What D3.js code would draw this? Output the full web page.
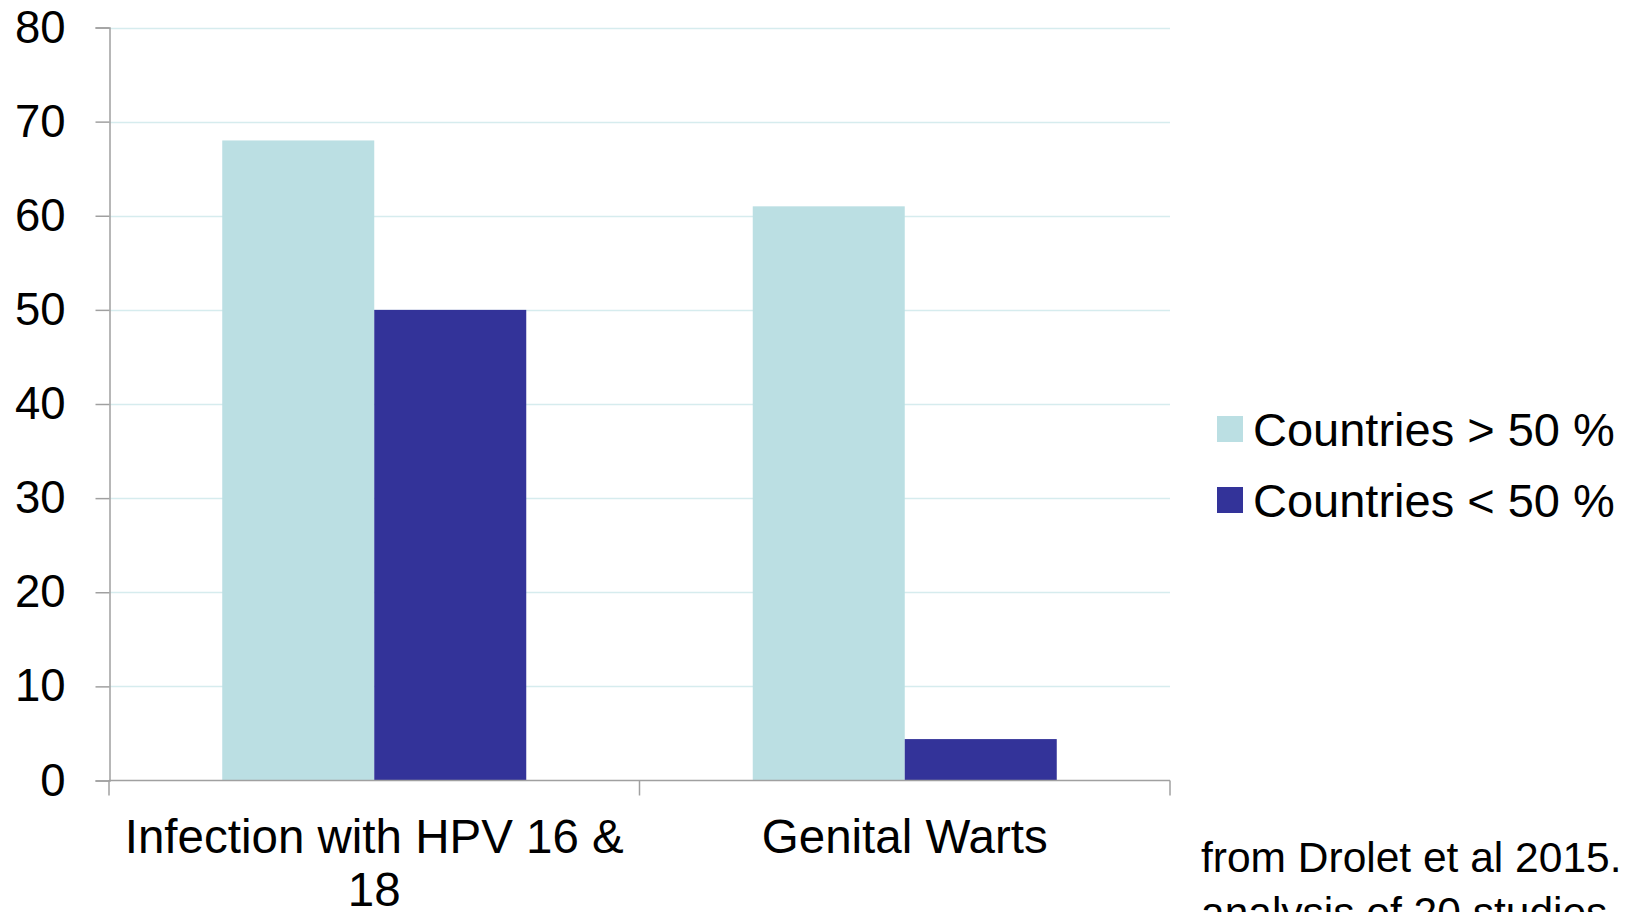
<!DOCTYPE html>
<html>
<head>
<meta charset="utf-8">
<script src="https://cdn.jsdelivr.net/npm/d3@7"></script>
<style>
  body { margin: 0; background: #fff; }
  svg { display: block; font-family: "Liberation Sans", Arial, sans-serif; }
</style>
</head>
<body>
<div id="chart"></div>
<script>
// data
var categories = ["Infection with HPV 16 & 18", "Genital Warts"]
var seriesNames = ["Countries > 50 %", "Countries < 50 %"]
var above50 = [68, 61]
var below50 = [50, 4.4]
var yTicks = [0, 10, 20, 30, 40, 50, 60, 70, 80]
var captionLines = ["from Drolet et al 2015.", "analysis of 20 studies"]

var width = 1637,
    height = 912
var colors = ["#bbdfe3", "#333399"]

var svg = d3.select("#chart")
  .append("svg")
    .attr("width", width)
    .attr("height", height)

var x0 = d3.scaleBand()
  .domain(categories)
  .range([109, 1170])
  .paddingInner(0)
  .paddingOuter(0)

// two bars side by side in the middle of each band (150% gap like excel)
var x1 = d3.scaleBand()
  .domain(seriesNames)
  .range([0, x0.bandwidth()])
  .paddingInner(0)
  .paddingOuter(0.745)

var y = d3.scaleLinear()
  .domain([0, 80])
  .range([780.5, 27.5])

// gridlines
svg.selectAll("grid")
  .data(yTicks.filter(function(d) { return d > 0 }))
  .enter()
  .append("line")
    .attr("x1", 109)
    .attr("x2", 1170)
    .attr("y1", function(d) { return Math.round(y(d)) + 0.5 })
    .attr("y2", function(d) { return Math.round(y(d)) + 0.5 })
    .attr("stroke", "#d6ecee")
    .attr("stroke-width", 1.5)

// bars
var table = categories.map(function(c, i) {
  return [
    {cat: c, key: seriesNames[0], value: above50[i]},
    {cat: c, key: seriesNames[1], value: below50[i]}
  ]
})

svg.selectAll("groups")
  .data(table)
  .enter()
  .append("g")
    .attr("transform", function(d) { return "translate(" + x0(d[0].cat) + ",0)" })
  .selectAll("rect")
  .data(function(d) { return d })
  .enter()
  .append("rect")
    .attr("x", function(d) { return x1(d.key) })
    .attr("width", x1.bandwidth())
    .attr("y", function(d) { return y(d.value) })
    .attr("height", function(d) { return y(0) - y(d.value) })
    .attr("fill", function(d, i) { return colors[i] })

// y axis
var yAxis = svg.append("g")
  .attr("transform", "translate(109.5,0)")
  .call(d3.axisLeft(y).tickValues(yTicks).tickSize(14).tickPadding(30))
yAxis.select(".domain").attr("stroke", "#a0a0a0").attr("stroke-width", 1.5)
yAxis.selectAll(".tick line").attr("stroke", "#a0a0a0").attr("stroke-width", 1.5)
yAxis.selectAll(".tick text")
  .attr("fill", "#000")
  .style("font-size", "45.5px")

// x axis (ticks at the band boundaries)
var xAxisG = svg.append("g")
  .attr("transform", "translate(0," + y(0) + ")")
xAxisG.append("line")
  .attr("x1", 109).attr("x2", 1170)
  .attr("stroke", "#a0a0a0").attr("stroke-width", 1.5)
var bounds = categories.map(function(c) { return x0(c) }).concat([x0.range()[1]])
xAxisG.selectAll("xticks")
  .data(bounds)
  .enter()
  .append("line")
    .attr("x1", function(d) { return d }).attr("x2", function(d) { return d })
    .attr("y1", 0).attr("y2", 15)
    .attr("stroke", "#a0a0a0").attr("stroke-width", 1.5)

// category labels, wrapped to the band width
var labels = svg.selectAll("catLabels")
  .data(categories)
  .enter()
  .append("text")
    .attr("x", function(d) { return x0(d) + x0.bandwidth() / 2 })
    .attr("y", 853)
    .attr("text-anchor", "middle")
    .style("font-size", "47.5px")
    .attr("fill", "#000")

labels.each(function(d) {
  var text = d3.select(this)
  var cx = +text.attr("x")
  var words = d.split(" ")
  var line = []
  var tspan = text.append("tspan").attr("x", cx).attr("dy", 0)
  words.forEach(function(w) {
    line.push(w)
    tspan.text(line.join(" "))
    if (tspan.node().getComputedTextLength() > x0.bandwidth() - 10 && line.length > 1) {
      line.pop()
      tspan.text(line.join(" "))
      line = [w]
      tspan = text.append("tspan").attr("x", cx).attr("dy", 53).text(w)
    }
  })
})

// legend
var legend = svg.selectAll("legend")
  .data(seriesNames)
  .enter()
  .append("g")
    .attr("transform", function(d, i) { return "translate(1217," + (416 + i * 71) + ")" })
legend.append("rect")
  .attr("width", 26)
  .attr("height", 26)
  .attr("fill", function(d, i) { return colors[i] })
legend.append("text")
  .attr("x", 36)
  .attr("y", 30)
  .style("font-size", "47px")
  .attr("fill", "#000")
  .text(function(d) { return d })

// source note
svg.selectAll("caption")
  .data(captionLines)
  .enter()
  .append("text")
    .attr("x", 1201)
    .attr("y", function(d, i) { return 872 + i * 55 })
    .style("font-size", "42.5px")
    .attr("fill", "#000")
    .text(function(d) { return d })
</script>
</body>
</html>
